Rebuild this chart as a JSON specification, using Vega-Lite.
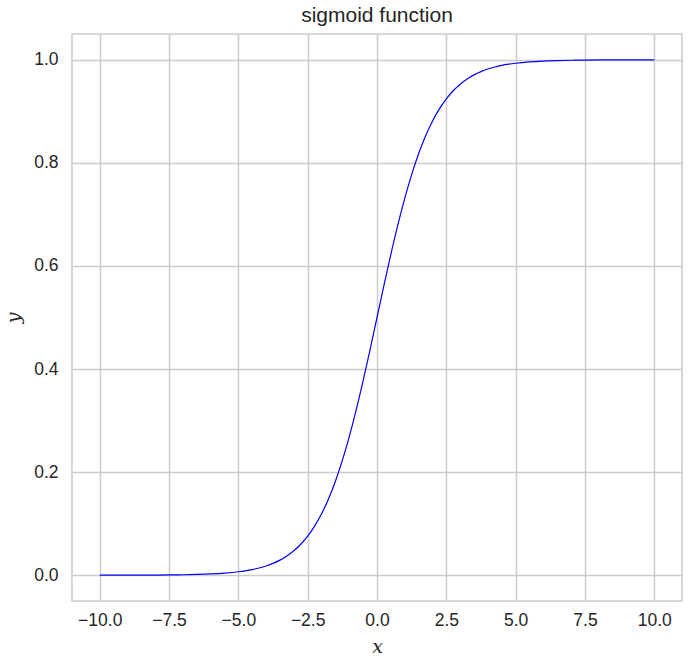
{
  "$schema": "https://vega.github.io/schema/vega-lite/v6.json",
  "autosize": "none",
  "width": 610,
  "height": 567,
  "padding": {"left": 72, "top": 34, "right": 9, "bottom": 65},
  "background": "white",
  "title": {"text": "sigmoid function", "font": "Liberation Sans", "fontSize": 21, "fontWeight": "normal", "color": "#262626", "offset": 8},
  "config": {
    "view": {"stroke": "#cccccc", "strokeWidth": 1.5},
    "axis": {
      "gridColor": "#cccccc", "gridWidth": 1.5, "domain": false, "ticks": false,
      "labelFont": "Liberation Sans", "labelFontSize": 17.5, "labelColor": "#262626",
      "titleFont": "DejaVu Serif", "titleFontStyle": "italic", "titleFontWeight": "normal", "titleFontSize": 19, "titleColor": "#262626"
    }
  },
  "data": {"values": [
    {"x": -10, "y": 0.00005}, {"x": -9.5, "y": 0.00007}, {"x": -9, "y": 0.00012}, {"x": -8.5, "y": 0.0002},
    {"x": -8, "y": 0.00034}, {"x": -7.5, "y": 0.00055}, {"x": -7, "y": 0.00091}, {"x": -6.5, "y": 0.0015},
    {"x": -6, "y": 0.00247}, {"x": -5.5, "y": 0.00407}, {"x": -5, "y": 0.00669}, {"x": -4.75, "y": 0.00858},
    {"x": -4.5, "y": 0.01099}, {"x": -4.25, "y": 0.01406}, {"x": -4, "y": 0.01799}, {"x": -3.75, "y": 0.02298},
    {"x": -3.5, "y": 0.02931}, {"x": -3.25, "y": 0.03733}, {"x": -3, "y": 0.04743}, {"x": -2.75, "y": 0.06009},
    {"x": -2.5, "y": 0.07586}, {"x": -2.25, "y": 0.09535}, {"x": -2, "y": 0.1192}, {"x": -1.75, "y": 0.14805},
    {"x": -1.5, "y": 0.18243}, {"x": -1.25, "y": 0.2227}, {"x": -1, "y": 0.26894}, {"x": -0.75, "y": 0.32082},
    {"x": -0.5, "y": 0.37754}, {"x": -0.25, "y": 0.43782}, {"x": 0, "y": 0.5}, {"x": 0.25, "y": 0.56218},
    {"x": 0.5, "y": 0.62246}, {"x": 0.75, "y": 0.67918}, {"x": 1, "y": 0.73106}, {"x": 1.25, "y": 0.7773},
    {"x": 1.5, "y": 0.81757}, {"x": 1.75, "y": 0.85195}, {"x": 2, "y": 0.8808}, {"x": 2.25, "y": 0.90465},
    {"x": 2.5, "y": 0.92414}, {"x": 2.75, "y": 0.93991}, {"x": 3, "y": 0.95257}, {"x": 3.25, "y": 0.96267},
    {"x": 3.5, "y": 0.97069}, {"x": 3.75, "y": 0.97702}, {"x": 4, "y": 0.98201}, {"x": 4.25, "y": 0.98594},
    {"x": 4.5, "y": 0.98901}, {"x": 4.75, "y": 0.99142}, {"x": 5, "y": 0.99331}, {"x": 5.5, "y": 0.99593},
    {"x": 6, "y": 0.99753}, {"x": 6.5, "y": 0.9985}, {"x": 7, "y": 0.99909}, {"x": 7.5, "y": 0.99945},
    {"x": 8, "y": 0.99966}, {"x": 8.5, "y": 0.9998}, {"x": 9, "y": 0.99988}, {"x": 9.5, "y": 0.99993},
    {"x": 10, "y": 0.99995}
  ]},
  "mark": {"type": "line", "color": "#0000ff", "strokeWidth": 1.2, "interpolate": "monotone"},
  "encoding": {
    "x": {"field": "x", "type": "quantitative", "scale": {"domain": [-11, 11], "nice": false, "zero": false},
      "axis": {"title": "x", "values": [-10, -7.5, -5, -2.5, 0, 2.5, 5, 7.5, 10], "format": ".1f", "labelPadding": 10, "titlePadding": 9}},
    "y": {"field": "y", "type": "quantitative", "scale": {"domain": [-0.05, 1.05], "nice": false, "zero": false},
      "axis": {"title": "y", "values": [0, 0.2, 0.4, 0.6, 0.8, 1.0], "format": ".1f", "labelPadding": 14, "titlePadding": 10}}
  }
}
